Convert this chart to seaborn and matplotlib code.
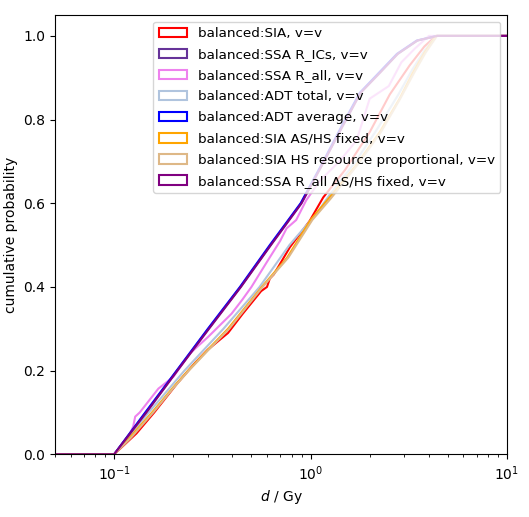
import matplotlib
matplotlib.use("Agg")
import matplotlib.pyplot as plt
import seaborn as sns
import pandas as pd
from matplotlib.patches import Patch

# ---- data (dose in Gy, cumulative probability) ----
labels = [
    "balanced:SIA, v=v",
    "balanced:SSA R_ICs, v=v",
    "balanced:SSA R_all, v=v",
    "balanced:ADT total, v=v",
    "balanced:ADT average, v=v",
    "balanced:SIA AS/HS fixed, v=v",
    "balanced:SIA HS resource proportional, v=v",
    "balanced:SSA R_all AS/HS fixed, v=v",
]
colors = ["red", "rebeccapurple", "violet", "lightsteelblue", "blue",
          "orange", "burlywood", "purple"]

sia_d = [0.05, 0.1, 0.13, 0.16, 0.21, 0.26, 0.3, 0.38, 0.45, 0.56, 0.6, 0.62, 0.65,
         0.785, 0.99, 1.16, 1.5, 2.0, 2.53, 3.2, 3.8, 4.35, 10]
sia_p = [0, 0, 0.05, 0.1, 0.17, 0.22, 0.25, 0.29, 0.335, 0.39, 0.40, 0.42, 0.43,
         0.495, 0.558, 0.614, 0.68, 0.77, 0.86, 0.93, 0.975, 1.0, 1.0]

ssa_rics_d = [0.05, 0.1, 0.145, 0.209, 0.302, 0.44, 0.625, 0.895, 1.17, 1.47, 1.79,
              2.26, 2.77, 3.5, 4.4, 10]
ssa_rics_p = [0, 0, 0.1, 0.2, 0.3, 0.4, 0.5, 0.6, 0.7, 0.79, 0.864, 0.914, 0.957,
              0.989, 1.0, 1.0]

ssa_rall_d = [0.05, 0.1, 0.115, 0.125, 0.128, 0.135, 0.168, 0.2, 0.243, 0.3, 0.396,
              0.45, 0.5, 0.6, 0.7, 0.755, 0.845, 0.95, 1.115, 1.4, 1.714, 2.0, 2.5,
              2.9, 3.4, 4.0, 10]
ssa_rall_p = [0, 0, 0.03, 0.066, 0.09, 0.10, 0.157, 0.185, 0.241, 0.28, 0.336,
              0.37, 0.40, 0.46, 0.51, 0.54, 0.56, 0.607, 0.654, 0.70, 0.75, 0.85,
              0.88, 0.937, 0.97, 1.0, 1.0]

adt_total_d = [0.05, 0.1, 0.15, 0.228, 0.36, 0.55, 0.78, 1.07, 1.25, 1.7, 2.2, 2.8,
               3.3, 3.8, 4.35, 10]
adt_total_p = [0, 0, 0.1, 0.2, 0.3, 0.4, 0.5, 0.575, 0.62, 0.70, 0.78, 0.86, 0.92,
               0.965, 1.0, 1.0]

adt_avg_d = [0.05, 0.1, 0.144, 0.208, 0.30, 0.437, 0.62, 0.89, 1.16, 1.46, 1.78,
             2.25, 2.75, 3.47, 4.39, 10]
adt_avg_p = [0, 0, 0.1, 0.2, 0.3, 0.4, 0.5, 0.6, 0.7, 0.79, 0.864, 0.914, 0.957,
             0.989, 1.0, 1.0]

sia_ashs_d = [0.05, 0.1, 0.12, 0.156, 0.2, 0.238, 0.3, 0.38, 0.565, 0.76, 1.0, 1.25,
              1.7, 2.25, 2.84, 3.3, 3.8, 4.35, 10]
sia_ashs_p = [0, 0, 0.04, 0.1, 0.16, 0.2, 0.25, 0.3, 0.4, 0.47, 0.56, 0.614, 0.69,
              0.77, 0.85, 0.91, 0.96, 1.0, 1.0]

sia_hsrp_d = [0.05, 0.1, 0.122, 0.158, 0.2, 0.24, 0.3, 0.385, 0.57, 0.77, 1.02, 1.27,
              1.72, 2.28, 2.86, 3.35, 3.85, 4.4, 10]
sia_hsrp_p = [0, 0, 0.04, 0.1, 0.158, 0.2, 0.248, 0.3, 0.4, 0.47, 0.56, 0.612, 0.69,
              0.77, 0.85, 0.91, 0.96, 1.0, 1.0]

ssa_rall_ashs_d = [0.05, 0.1, 0.146, 0.21, 0.304, 0.442, 0.628, 0.9, 1.17, 1.48, 1.8,
                   2.28, 2.78, 3.5, 4.42, 10]
ssa_rall_ashs_p = [0, 0, 0.1, 0.2, 0.3, 0.4, 0.5, 0.6, 0.7, 0.79, 0.864, 0.914,
                   0.957, 0.989, 1.0, 1.0]

doses = [sia_d, ssa_rics_d, ssa_rall_d, adt_total_d, adt_avg_d, sia_ashs_d,
         sia_hsrp_d, ssa_rall_ashs_d]
probs = [sia_p, ssa_rics_p, ssa_rall_p, adt_total_p, adt_avg_p, sia_ashs_p,
         sia_hsrp_p, ssa_rall_ashs_p]

frames = []
for lab, xs, ys in zip(labels, doses, probs):
    frames.append(pd.DataFrame({"d": xs, "p": ys, "series": lab}))
df = pd.concat(frames, ignore_index=True)

fig, ax = plt.subplots(figsize=(5.29, 5.17), dpi=100)
fig.subplots_adjust(left=55 / 529, right=507 / 529, bottom=1 - 454.3 / 517, top=1 - 15 / 517)

sns.lineplot(data=df, x="d", y="p", hue="series", hue_order=labels,
             palette=dict(zip(labels, colors)), estimator=None, sort=False,
             legend=False, linewidth=1.5, ax=ax)

ax.set_xscale("log")
ax.set_xlim(0.05, 10)
ax.set_ylim(0, 1.05)
ax.set_xlabel(r"$d$ / Gy")
ax.set_ylabel("cumulative probability")

handles = [Patch(facecolor="none", edgecolor=c, linewidth=1.5, label=l)
           for l, c in zip(labels, colors)]
ax.legend(handles=handles, loc="upper right", fontsize=9.7, handlelength=2.1,
          labelspacing=0.6)

fig.savefig("out.png", dpi=100)
